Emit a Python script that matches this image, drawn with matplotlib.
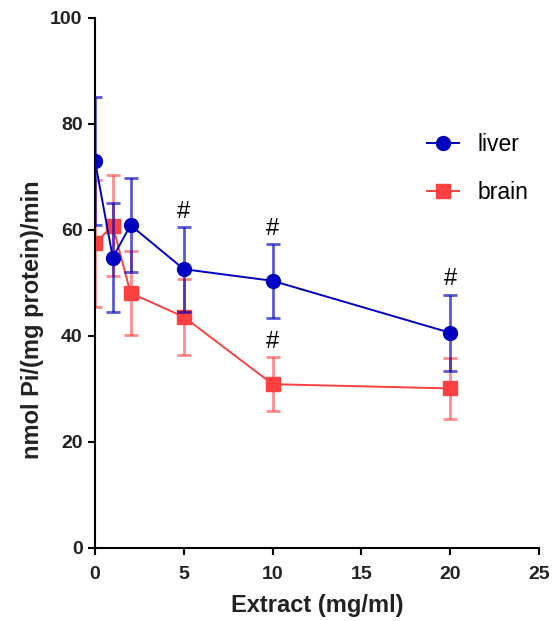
import numpy as np
import matplotlib.pyplot as plt
from matplotlib.lines import Line2D

plt.rcParams['font.family'] = ['Liberation Sans', 'DejaVu Sans']

# data
extract = [0, 1, 2, 5, 10, 20]
liver = [73.0, 54.8, 60.9, 52.6, 50.4, 40.6]
liver_err = [12.0, 10.3, 8.9, 8.0, 7.0, 7.2]
brain = [57.5, 60.8, 48.1, 43.6, 30.9, 30.1]
brain_err = [12.0, 9.5, 7.9, 7.1, 5.1, 5.7]
liver_marks = [5, 10, 20]
brain_marks = [10]

blue = '#0000c0'
red = '#ff4040'

fig = plt.figure(figsize=(5.53, 6.21), dpi=100)
ax = fig.add_axes([0.1718, 0.1176, 0.803, 0.8535])

ax.errorbar(extract, brain, yerr=brain_err, color=red, marker='s', markersize=9.5,
            linewidth=1.4, elinewidth=2, capsize=5, capthick=2,
            ecolor=(1, 0.25, 0.25, 0.6), zorder=2)
ax.errorbar(extract, liver, yerr=liver_err, color=blue, marker='o', markersize=10,
            linewidth=1.4, elinewidth=2, capsize=5, capthick=2,
            ecolor=(0, 0, 0.75, 0.65), zorder=3)

# significance marks above the upper error caps
for xv in liver_marks:
    i = extract.index(xv)
    ax.annotate('#', (xv, liver[i] + liver_err[i]), xytext=(0, 3),
                textcoords='offset points', ha='center', va='bottom', fontsize=17)
for xv in brain_marks:
    i = extract.index(xv)
    ax.annotate('#', (xv, brain[i] + brain_err[i]), xytext=(0, 3),
                textcoords='offset points', ha='center', va='bottom', fontsize=17)

ax.set_xlim(0, 25)
ax.set_ylim(0, 100)
ax.set_xticks([0, 5, 10, 15, 20, 25])
ax.set_yticks([0, 20, 40, 60, 80, 100])
for s in ['top', 'right']:
    ax.spines[s].set_visible(False)
for s in ['left', 'bottom']:
    ax.spines[s].set_linewidth(1.5)
ax.tick_params(width=1.5, length=5, labelsize=14)
ax.tick_params(axis='x', pad=8)
ax.tick_params(axis='y', pad=4)
for lbl in ax.get_xticklabels() + ax.get_yticklabels():
    lbl.set_fontweight('bold')
    lbl.set_color('#222222')

ax.set_xlabel('Extract (mg/ml)', fontsize=17, fontweight='bold', labelpad=8,
              color='#222222')
ax.set_ylabel('nmol Pi/(mg protein)/min', fontsize=17, fontweight='bold',
              labelpad=6, color='#222222')
ax.yaxis.set_label_coords(-0.115, 0.43)

handles = [Line2D([], [], color=blue, marker='o', markersize=10, linewidth=1.4),
           Line2D([], [], color=red, marker='s', markersize=9.5, linewidth=1.4)]
ax.legend(handles, ['liver', 'brain'], loc='upper left', bbox_to_anchor=(0.748, 0.783),
          frameon=False, fontsize=16.5, labelspacing=1.1, handlelength=1.4,
          handletextpad=0.8, borderpad=0, borderaxespad=0)

fig.savefig('out.png', dpi=100)
